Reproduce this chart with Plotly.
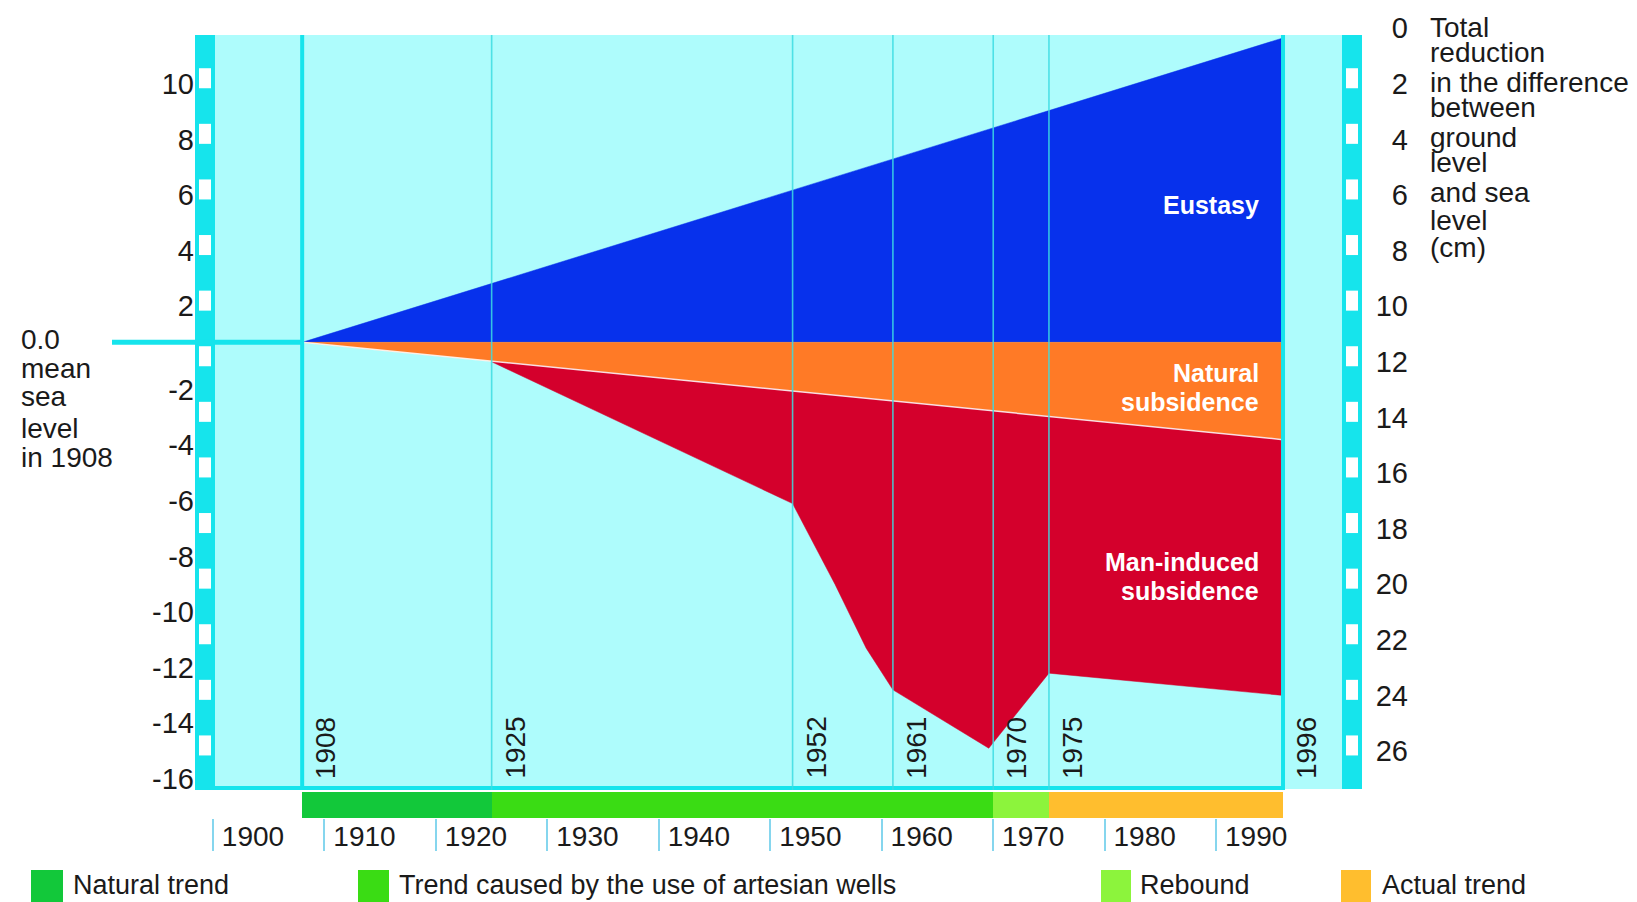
import numpy as np
import plotly.graph_objects as go

# ---------------- data (read on the right-hand scale, cm, 0 at the top) ----------------
mean_sea_level_1908 = 11.3

eustasy_years = [1908, 1996]
eustasy_top = [11.3, 0.35]

natural_years = [1908, 1996]
natural_bottom = [11.3, 14.8]

man_years = [1925, 1952, 1955.8, 1958.6, 1961, 1969.6, 1975, 1996]
man_bottom = [12.0, 17.1, 20.0, 22.3, 23.8, 25.9, 23.2, 24.0]

event_years = [1908, 1925, 1952, 1961, 1970, 1975, 1996]
event_labels = ["1908", "1925", "1952", "1961", "1970", "1975", "1996"]

period_start = [1908, 1925, 1970, 1975]
period_end = [1925, 1970, 1975, 1996]
period_names = ["Natural trend", "Trend caused by the use of artesian wells", "Rebound", "Actual trend"]
period_colors = ["#12c83a", "#3adc14", "#8cf43c", "#ffbe2e"]

left_tick_text = ["10", "8", "6", "4", "2", "-2", "-4", "-6", "-8", "-10", "-12", "-14", "-16"]
left_tick_pos = [2, 4, 6, 8, 10, 13, 15, 17, 19, 21, 23, 25, 27]
right_tick_vals = list(range(0, 27, 2))
year_ticks = list(range(1900, 2000, 10))

left_note = ["0.0", "mean", "sea", "level", "in 1908"]
right_title = ["Total", "reduction", "in the difference", "between", "ground", "level",
               "and sea", "level", "(cm)"]

# ---------------- geometry / styling (pixel values in window coordinates) ----------------
OFF = 8                      # page body margin
W, H = 1637 - OFF, 902 - OFF


def fx(px):
    return px - OFF


L, T, B = fx(195), fx(22), fx(818)
PW, PH = W - L, B - T
X_LEFT_PX, X_RIGHT_PX = fx(195), fx(1362)
PX_1900, PX_PER_YEAR = fx(213), 11.146
PX_R0, PX_PER_R = fx(28.2), 27.8

x_lo = 1900 + (X_LEFT_PX - PX_1900) / PX_PER_YEAR
x_hi = 1900 + (X_RIGHT_PX - PX_1900) / PX_PER_YEAR
x_dom_end = (X_RIGHT_PX - L) / PW
r_top = (T - PX_R0) / PX_PER_R
r_bot = (B - PX_R0) / PX_PER_R


def ry(py):
    return (fx(py) - PX_R0) / PX_PER_R


def yr(px):
    return 1900 + (fx(px) - PX_1900) / PX_PER_YEAR


def xp(px):
    return (fx(px) - L) / PW


def yp(py):
    return (B - fx(py)) / PH


def year_to_paper(y):
    return (y - x_lo) / (x_hi - x_lo) * x_dom_end


FONT = "Liberation Sans, Arial, sans-serif"
TXT = "#1a1a1a"
BG = "#aefcfc"
STRIP = "#16e4ec"
LINE = "#3ddde3"
BLUE = "#0731ec"
ORANGE = "#ff7a26"
RED = "#d4002c"

fig = go.Figure()

# bottom period bands
fig.add_trace(go.Bar(
    orientation="h",
    base=period_start,
    x=[e - s for s, e in zip(period_start, period_end)],
    y=[(ry(792) + r_bot) / 2] * len(period_start),
    width=r_bot - ry(792),
    marker=dict(color=period_colors, line=dict(width=0)),
    hoverinfo="skip", showlegend=False,
))

# eustasy
fig.add_trace(go.Scatter(
    x=eustasy_years + [eustasy_years[-1]],
    y=eustasy_top + [mean_sea_level_1908],
    fill="toself", fillcolor=BLUE, mode="lines", line=dict(width=0.5, color=BLUE),
    hoverinfo="skip", showlegend=False,
))

# natural subsidence
fig.add_trace(go.Scatter(
    x=natural_years + natural_years[::-1],
    y=natural_bottom + [mean_sea_level_1908, mean_sea_level_1908],
    fill="toself", fillcolor=ORANGE, mode="lines", line=dict(width=0.5, color=ORANGE),
    hoverinfo="skip", showlegend=False,
))

# man-induced subsidence
nat_at_start = float(np.interp(man_years[0], natural_years, natural_bottom))
fig.add_trace(go.Scatter(
    x=[man_years[0], natural_years[-1]] + man_years[::-1],
    y=[nat_at_start, natural_bottom[-1]] + man_bottom[::-1],
    fill="toself", fillcolor=RED, mode="lines", line=dict(width=0.5, color=RED),
    hoverinfo="skip", showlegend=False,
))

# thin white edge under natural subsidence
fig.add_trace(go.Scatter(
    x=natural_years, y=natural_bottom, mode="lines",
    line=dict(width=1.5, color="rgba(255,255,255,0.85)"),
    hoverinfo="skip", showlegend=False,
))

shapes = []
# background panel and side strips
shapes.append(dict(type="rect", xref="x", yref="y", x0=yr(215), x1=yr(1342), y0=ry(35), y1=ry(789),
                   fillcolor=BG, line=dict(width=0), layer="below"))
shapes.append(dict(type="rect", xref="x", yref="y", x0=x_lo, x1=yr(215), y0=ry(35), y1=ry(790),
                   fillcolor=STRIP, line=dict(width=0), layer="below"))
shapes.append(dict(type="rect", xref="x", yref="y", x0=yr(1342), x1=x_hi, y0=ry(35), y1=ry(789),
                   fillcolor=STRIP, line=dict(width=0), layer="below"))
for k in range(1, 14):
    c = 2 * k - 0.2
    for a, b in ((199, 211), (1346, 1358)):
        shapes.append(dict(type="rect", xref="x", yref="y", x0=yr(a), x1=yr(b), y0=c - 0.36, y1=c + 0.36,
                           fillcolor="white", line=dict(width=0), layer="below"))
# bottom border of the panel
shapes.append(dict(type="line", xref="x", yref="y", x0=x_lo, x1=event_years[-1], y0=ry(788), y1=ry(788),
                   line=dict(color=STRIP, width=4), layer="below"))

# event lines
for yv in event_years:
    thick = yv in (event_years[0], event_years[-1])
    shapes.append(dict(type="line", xref="x", yref="y", x0=yv, x1=yv, y0=ry(35), y1=ry(790),
                       line=dict(color=STRIP if thick else LINE, width=4 if thick else 1.6),
                       layer="above", opacity=1 if thick else 0.85))

# mean sea level line (extends left of the panel)
shapes.append(dict(type="line", xref="paper", yref="y", x0=xp(112), x1=year_to_paper(event_years[0]),
                   y0=mean_sea_level_1908, y1=mean_sea_level_1908,
                   line=dict(color=STRIP, width=5), layer="above"))

# legend swatches
legend_px = [(31, 63, 71), (358, 389, 397), (1101, 1131, 1138), (1341, 1371, 1380)]
for (a, b, _), col in zip(legend_px, period_colors):
    shapes.append(dict(type="rect", xref="paper", yref="paper", x0=xp(a), x1=xp(b), y0=yp(902), y1=yp(870),
                       fillcolor=col, line=dict(width=0)))

annotations = []
# area labels
for txt, py in (("Eustasy", 205), ("Natural", 373), ("subsidence", 402),
                ("Man-induced", 562), ("subsidence", 591)):
    annotations.append(dict(x=event_years[-1], y=ry(py), xref="x", yref="y", text="<b>" + txt + "</b>",
                            xanchor="right", yanchor="middle", xshift=-22, showarrow=False,
                            font=dict(family=FONT, size=25, color="white")))
# rotated event-year labels
for yv, lab in zip(event_years, event_labels):
    annotations.append(dict(x=yv, y=ry(748), xref="x", yref="y", text=lab, textangle=-90,
                            xanchor="center", yanchor="middle", xshift=23, showarrow=False,
                            font=dict(family=FONT, size=28, color=TXT)))
# left note
for txt, py in zip(left_note, [339, 368.5, 397, 428, 457]):
    annotations.append(dict(x=xp(19), y=yp(py), xref="paper", yref="paper", text=txt,
                            xanchor="left", yanchor="middle", showarrow=False,
                            font=dict(family=FONT, size=28, color=TXT)))
# right title
for txt, py in zip(right_title, [27, 52, 82, 108, 137, 163, 193, 220, 248]):
    annotations.append(dict(x=xp(1428), y=yp(py), xref="paper", yref="paper", text=txt,
                            xanchor="left", yanchor="middle", showarrow=False,
                            font=dict(family=FONT, size=28, color=TXT)))
# legend texts
for (_, _, tx), name in zip(legend_px, period_names):
    annotations.append(dict(x=xp(tx), y=yp(885), xref="paper", yref="paper", text=name,
                            xanchor="left", yanchor="middle", showarrow=False,
                            font=dict(family=FONT, size=27, color=TXT)))

fig.update_layout(
    width=W, height=H,
    margin=dict(l=L, r=0, t=T, b=H - B),
    paper_bgcolor="white", plot_bgcolor="rgba(0,0,0,0)",
    showlegend=False, bargap=0,
    shapes=shapes, annotations=annotations,
    xaxis=dict(range=[x_lo, x_hi], domain=[0, x_dom_end], tickvals=year_ticks,
               ticktext=[str(v) for v in year_ticks], ticks="outside", ticklen=32,
               tickcolor="#86d6ee", tickwidth=1.5, ticklabelshift=40, ticklabelstandoff=-39,
               showgrid=False, zeroline=False, showline=False,
               tickfont=dict(family=FONT, size=28, color=TXT), fixedrange=True),
    yaxis=dict(range=[r_bot, r_top], tickvals=left_tick_pos, ticktext=left_tick_text,
               ticks="", showgrid=False, zeroline=False, showline=False,
               tickfont=dict(family=FONT, size=29, color=TXT), fixedrange=True),
    yaxis2=dict(range=[r_bot, r_top], overlaying="y", anchor="free", side="left",
                position=(fx(1408) - L) / PW, tickvals=right_tick_vals,
                ticktext=[str(v) for v in right_tick_vals], ticks="",
                showgrid=False, zeroline=False, showline=False,
                tickfont=dict(family=FONT, size=29, color=TXT), fixedrange=True),
)

# invisible trace so the right-hand axis is drawn
fig.add_trace(go.Scatter(x=[x_lo], y=[0], yaxis="y2", mode="markers",
                         marker=dict(opacity=0), hoverinfo="skip", showlegend=False))

fig.write_html("out.html")
